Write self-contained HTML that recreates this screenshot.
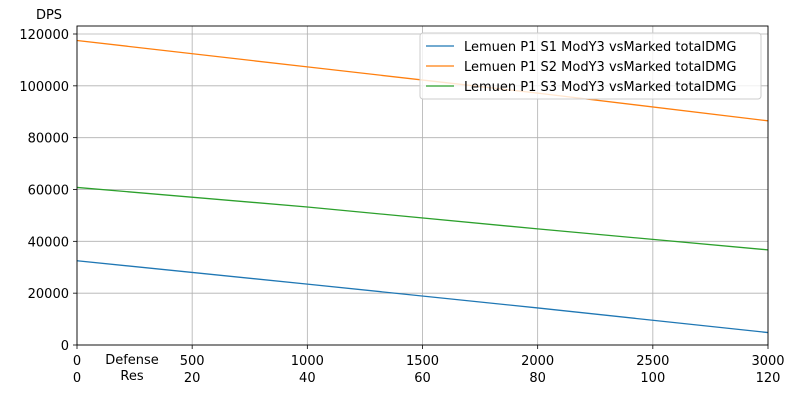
<!DOCTYPE html>
<html><head><meta charset="utf-8"><style>
body{margin:0;background:#fff;}
svg{display:block;font-family:"DejaVu Sans","Liberation Sans",sans-serif;}
</style></head><body>
<svg id="chart" width="800" height="400"></svg>
<script>
const xValues=[0,1000,2000,3000];
const s1Values=[32500,23500,14300,4800];
const s2Values=[117500,107300,97200,86500];
const s3Values=[60800,53250,44800,36700];
const seriesNames=["Lemuen P1 S1 ModY3 vsMarked totalDMG","Lemuen P1 S2 ModY3 vsMarked totalDMG","Lemuen P1 S3 ModY3 vsMarked totalDMG"];
const xTicks=[0,500,1000,1500,2000,2500,3000];
const resTicks=[0,20,40,60,80,100,120];
const yTicks=[0,20000,40000,60000,80000,100000,120000];
const colors=["#1f77b4","#ff7f0e","#2ca02c"];
const L=77,R=768,T=26,B=345;
const sx=v=>L+(v/3000)*(R-L);
const sy=v=>B-(v/120000)*(B-34);
const svg=document.getElementById('chart');
const NS="http://www.w3.org/2000/svg";
function mk(tag,attrs,parent){const e=document.createElementNS(NS,tag);for(const k in attrs)e.setAttribute(k,attrs[k]);(parent||svg).appendChild(e);return e;}
xTicks.forEach((t,i)=>{
 const g=mk('line',{x1:sx(t),x2:sx(t),y1:T,y2:B,stroke:'#b0b0b0','stroke-width':0.8});
 
 
 mk('line',{x1:sx(t),x2:sx(t),y1:B,y2:B+4,stroke:'#000','stroke-width':0.8});
 const a=mk('text',{x:sx(t),y:365,'font-size':13,'text-anchor':'middle'});a.textContent=t;
 
 
 const b=mk('text',{x:sx(t),y:382,'font-size':13,'text-anchor':'middle'});b.textContent=resTicks[i];
 
 
});
yTicks.forEach(t=>{
 const g=mk('line',{x1:L,x2:R,y1:sy(t),y2:sy(t),stroke:'#b0b0b0','stroke-width':0.8});
 
 
 mk('line',{x1:L-4,x2:L,y1:sy(t),y2:sy(t),stroke:'#000','stroke-width':0.8});
 const a=mk('text',{x:L-8,y:sy(t)+5,'font-size':13,'text-anchor':'end'});a.textContent=t;
 
 
});
[s1Values,s2Values,s3Values].forEach((vals,i)=>{
 const p=mk('polyline',{points:vals.map((v,j)=>sx(xValues[j])+','+sy(v)).join(' '),fill:'none',stroke:colors[i],'stroke-width':1.3});
 
 
});
const frame=mk('rect',{x:L,y:T,width:R-L,height:B-T,fill:'none',stroke:'#000','stroke-width':0.9});


const lg=mk('rect',{x:420,y:33,width:341,height:66,rx:3,fill:'#fff','fill-opacity':0.8,stroke:'#ccc'});


seriesNames.forEach((n,i)=>{
 const y=46+i*20;
 mk('line',{x1:426,x2:454,y1:y,y2:y,stroke:colors[i],'stroke-width':1.3});
 const t=mk('text',{x:464,y:y+5,'font-size':13});t.textContent=n;
 
 
});
const dps=mk('text',{x:49,y:19,'font-size':13,'text-anchor':'middle'});dps.textContent='DPS';


const d1=mk('text',{x:132,y:364,'font-size':13,'text-anchor':'middle'});d1.textContent='Defense';


const d2=mk('text',{x:132,y:380,'font-size':13,'text-anchor':'middle'});d2.textContent='Res';


</script>
</body></html>
